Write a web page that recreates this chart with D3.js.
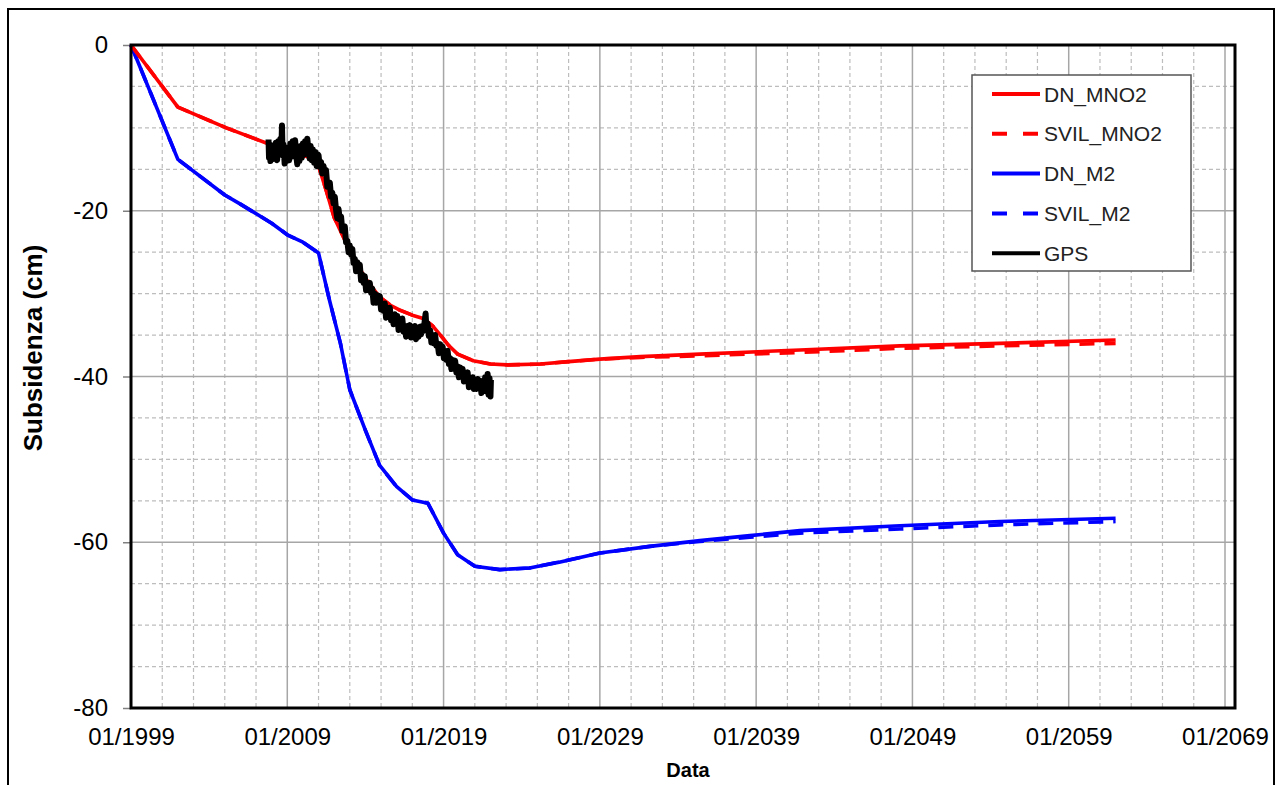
<!DOCTYPE html>
<html><head><meta charset="utf-8">
<script src="https://cdn.jsdelivr.net/npm/d3@7"></script>
<style>
html,body{margin:0;padding:0;background:#fff;}
svg text{font-family:"Liberation Sans",Arial,sans-serif;}
</style></head>
<body><svg id="chart" width="1282" height="785"></svg>
<script>
// ---- data ----
const xTickYears = [1999, 2009, 2019, 2029, 2039, 2049, 2059, 2069];
const yTicks = [0, -20, -40, -60, -80];
const seriesNames = ["DN_MNO2", "SVIL_MNO2", "DN_M2", "SVIL_M2", "GPS"];

const dnMno2 = [[1999.0,0],[2002.0,-7.5],[2005.1,-10.0],[2007.9,-12.0],[2009.5,-13.0],[2010.5,-13.6],[2011.0,-14.6],[2011.5,-17.6],[2012.0,-20.8],[2012.4,-22.4],[2013.0,-24.8],[2014.0,-28.2],[2014.9,-30.4],[2015.6,-31.4],[2016.2,-32.0],[2017.0,-32.6],[2017.7,-33.0],[2018.3,-33.9],[2018.8,-35.0],[2019.3,-36.2],[2019.9,-37.3],[2020.9,-38.1],[2022.0,-38.5],[2023.1,-38.6],[2025.2,-38.5],[2027.0,-38.2],[2029.0,-37.9],[2031.6,-37.6],[2035.4,-37.3],[2041.8,-36.8],[2048.2,-36.3],[2054.6,-36.0],[2062.0,-35.6]];
const svilMno2 = [[1999.0,0],[2002.0,-7.5],[2005.1,-10.0],[2007.9,-12.0],[2009.5,-13.0],[2010.5,-13.6],[2011.0,-14.6],[2011.5,-17.6],[2012.0,-20.8],[2012.4,-22.4],[2013.0,-24.8],[2014.0,-28.2],[2014.9,-30.4],[2015.6,-31.4],[2016.2,-32.0],[2017.0,-32.6],[2017.7,-33.0],[2018.3,-33.9],[2018.8,-35.0],[2019.3,-36.2],[2019.9,-37.3],[2020.9,-38.1],[2022.0,-38.5],[2023.1,-38.6],[2025.2,-38.5],[2027.0,-38.2],[2029.0,-37.9],[2031.6,-37.7],[2035.4,-37.5],[2041.8,-37.1],[2048.2,-36.6],[2054.6,-36.3],[2062.0,-36.0]];
const dnM2 = [[1999.0,0],[2002.0,-13.8],[2005.0,-18.1],[2006.0,-19.2],[2008.0,-21.5],[2009.0,-22.9],[2010.0,-23.8],[2011.0,-25.1],[2011.7,-30.8],[2012.4,-36.0],[2013.0,-41.6],[2014.0,-46.5],[2014.9,-50.7],[2016.0,-53.3],[2017.0,-54.9],[2018.0,-55.3],[2019.0,-58.9],[2019.9,-61.5],[2021.0,-62.9],[2022.6,-63.3],[2024.5,-63.1],[2026.4,-62.4],[2029.0,-61.3],[2032.2,-60.5],[2035.4,-59.8],[2038.6,-59.2],[2041.8,-58.6],[2048.2,-58.0],[2054.6,-57.5],[2062.0,-57.1]];
const svilM2 = [[1999.0,0],[2002.0,-13.8],[2005.0,-18.1],[2006.0,-19.2],[2008.0,-21.5],[2009.0,-22.9],[2010.0,-23.8],[2011.0,-25.1],[2011.7,-30.8],[2012.4,-36.0],[2013.0,-41.6],[2014.0,-46.5],[2014.9,-50.7],[2016.0,-53.3],[2017.0,-54.9],[2018.0,-55.3],[2019.0,-58.9],[2019.9,-61.5],[2021.0,-62.9],[2022.6,-63.3],[2024.5,-63.1],[2026.4,-62.4],[2029.0,-61.3],[2032.2,-60.5],[2035.4,-59.9],[2038.6,-59.4],[2041.8,-58.9],[2048.2,-58.4],[2054.6,-57.9],[2062.0,-57.5]];
const gps = [[2007.8,-11.4],[2007.83,-13.6],[2007.87,-12.0],[2007.92,-14.0],[2007.97,-12.3],[2008.05,-13.8],[2008.12,-12.1],[2008.2,-13.5],[2008.27,-11.8],[2008.35,-13.9],[2008.42,-11.6],[2008.5,-13.2],[2008.56,-11.3],[2008.62,-12.8],[2008.66,-9.7],[2008.7,-13.3],[2008.76,-12.0],[2008.83,-14.3],[2008.9,-12.4],[2008.97,-14.0],[2009.05,-12.5],[2009.12,-13.9],[2009.2,-11.9],[2009.27,-13.5],[2009.35,-11.6],[2009.42,-12.9],[2009.5,-11.5],[2009.57,-13.3],[2009.64,-14.4],[2009.7,-12.7],[2009.78,-14.0],[2009.85,-12.2],[2009.93,-13.6],[2010.0,-11.9],[2010.07,-13.2],[2010.14,-11.6],[2010.21,-12.9],[2010.28,-11.3],[2010.35,-12.6],[2010.43,-13.7],[2010.5,-12.2],[2010.57,-13.9],[2010.64,-12.6],[2010.72,-14.2],[2010.8,-12.9],[2010.88,-14.6],[2010.95,-13.2],
[2011.00,-13.3],[2011.08,-14.7],[2011.16,-14.1],[2011.24,-15.5],[2011.32,-14.6],[2011.40,-15.5],[2011.48,-15.1],[2011.56,-17.1],[2011.64,-16.8],[2011.72,-16.6],[2011.80,-18.3],[2011.88,-17.8],[2011.96,-19.1],[2012.04,-18.3],[2012.12,-19.9],[2012.20,-20.9],[2012.28,-19.8],[2012.36,-21.1],[2012.44,-20.7],[2012.52,-22.4],[2012.60,-22.1],[2012.68,-21.9],[2012.76,-23.8],[2012.84,-23.6],[2012.92,-25.0],[2013.00,-24.2],[2013.08,-25.3],[2013.16,-24.6],[2013.24,-26.3],[2013.32,-25.8],[2013.40,-27.3],[2013.48,-26.2],[2013.56,-27.2],[2013.64,-26.5],[2013.72,-28.4],[2013.80,-27.7],[2013.88,-28.7],[2013.96,-27.9],[2014.04,-29.6],[2014.12,-28.7],[2014.20,-29.6],[2014.28,-28.7],[2014.36,-29.9],[2014.44,-29.4],[2014.52,-31.1],[2014.60,-30.0],[2014.68,-31.1],[2014.76,-30.2],[2014.84,-31.1],[2014.92,-30.3],[2015.00,-31.9],[2015.08,-31.3],[2015.16,-32.1],[2015.24,-31.2],[2015.32,-32.9],[2015.40,-31.7],[2015.48,-32.6],[2015.56,-31.7],[2015.64,-33.2],[2015.72,-32.5],[2015.80,-33.7],[2015.88,-32.5],[2015.96,-33.6],[2016.04,-32.7],[2016.12,-34.4],[2016.20,-33.3],[2016.28,-34.2],[2016.36,-33.0],[2016.44,-34.6],[2016.52,-33.9],[2016.60,-35.2],[2016.68,-33.9],[2016.76,-34.7],[2016.84,-33.8],[2016.92,-35.3],[2017.00,-34.4],[2017.08,-35.2],[2017.16,-33.9],[2017.24,-35.5],[2017.32,-34.4],[2017.40,-35.2],[2017.48,-34.0],[2017.56,-34.9],[2017.64,-33.9],[2017.72,-34.5],[2017.80,-33.2],[2017.85,-32.4],[2017.90,-34.2],[2017.98,-33.6],[2018.06,-35.1],[2018.14,-34.4],[2018.22,-35.9],[2018.30,-35.0],[2018.38,-36.0],[2018.46,-35.0],[2018.54,-36.3],[2018.62,-36.0],[2018.70,-37.2],[2018.78,-36.1],[2018.86,-37.1],[2018.94,-36.4],[2019.02,-37.8],[2019.10,-37.0],[2019.18,-38.0],[2019.26,-36.9],[2019.34,-38.5],[2019.42,-37.8],[2019.50,-39.1],[2019.58,-38.0],[2019.66,-38.8],[2019.74,-38.1],[2019.82,-39.5],[2019.90,-38.8],[2019.98,-40.1],[2020.06,-38.9],[2020.14,-40.0],[2020.22,-39.1],[2020.30,-40.6],[2020.38,-39.8],[2020.46,-40.6],[2020.54,-39.5],[2020.62,-41.3],[2020.70,-40.2],[2020.78,-41.0],[2020.86,-40.1],[2020.94,-41.5],[2021.02,-40.5],[2021.10,-41.5],[2021.18,-40.3],[2021.26,-41.3],[2021.34,-40.5],[2021.42,-42.0],[2021.50,-40.8],[2021.58,-41.6],[2021.66,-40.1],[2021.74,-41.8],[2021.82,-39.7],[2021.88,-42.2],[2021.94,-40.2],[2022.00,-42.4],[2022.03,-40.4]];

// ---- layout ----
const svg = d3.select("#chart");
const L = 131, R = 1235, T = 45, B = 708;
const x = d3.scaleLinear().domain([1999, 2069.64]).range([L, R]);
const y = d3.scaleLinear().domain([-80, 0]).range([B, T]);

// outer border
svg.append("rect").attr("x", 8).attr("y", 9).attr("width", 1266).attr("height", 800)
  .attr("fill", "none").attr("stroke", "#000").attr("stroke-width", 2);

// minor grid
const minorX = d3.range(1999, 2070, 2).filter(v => (v - 1999) % 10 !== 0);
const minorY = d3.range(-80, 1, 5).filter(v => v % 20 !== 0);
const g = svg.append("g");
g.selectAll(".mx").data(minorX).enter().append("line")
  .attr("x1", d => x(d)).attr("x2", d => x(d)).attr("y1", T).attr("y2", B)
  .attr("stroke", "#bdbdbd").attr("stroke-width", 1.2).attr("stroke-dasharray", "4,3");
g.selectAll(".my").data(minorY).enter().append("line")
  .attr("y1", d => y(d)).attr("y2", d => y(d)).attr("x1", L).attr("x2", R)
  .attr("stroke", "#bdbdbd").attr("stroke-width", 1.2).attr("stroke-dasharray", "4,3");
// major grid
g.selectAll(".Mx").data(xTickYears).enter().append("line")
  .attr("x1", d => x(d)).attr("x2", d => x(d)).attr("y1", T).attr("y2", B)
  .attr("stroke", "#a6a6a6").attr("stroke-width", 1.5);
g.selectAll(".My").data(yTicks).enter().append("line")
  .attr("y1", d => y(d)).attr("y2", d => y(d)).attr("x1", L).attr("x2", R)
  .attr("stroke", "#a6a6a6").attr("stroke-width", 1.5);

// axes
const yAxis = d3.axisLeft(y).tickValues(yTicks).tickSize(8).tickPadding(15).tickFormat(d => String(d));
const ya = svg.append("g").attr("transform", `translate(${L},0)`).call(yAxis);
ya.select(".domain").remove();
ya.selectAll("line").attr("stroke", "#808080").attr("stroke-width", 1.5);
ya.selectAll("text").attr("font-size", 24).attr("fill", "#000").style("font-family", "'Liberation Sans',Arial,sans-serif");

const xAxis = d3.axisBottom(x).tickValues(xTickYears).tickSize(0).tickPadding(20).tickFormat(d => "01/" + d);
const xa = svg.append("g").attr("transform", `translate(0,${B})`).call(xAxis);
xa.select(".domain").remove();
xa.selectAll("text").attr("font-size", 24).attr("fill", "#000").style("font-family", "'Liberation Sans',Arial,sans-serif");

// series
const line = d3.line().x(d => x(d[0])).y(d => y(d[1]));
const series = [
  {data: svilM2, color: "#0000ff", dash: "15,10"},
  {data: dnM2, color: "#0000ff", dash: null},
  {data: svilMno2, color: "#ff0000", dash: "15,10"},
  {data: dnMno2, color: "#ff0000", dash: null},
];
series.forEach(s => {
  svg.append("path").datum(s.data).attr("d", line).attr("fill", "none")
    .attr("stroke", s.color).attr("stroke-width", 3.6)
    .attr("stroke-dasharray", s.dash).attr("stroke-linejoin", "round");
});
svg.append("path").datum(gps).attr("d", line).attr("fill", "none")
  .attr("stroke", "#000").attr("stroke-width", 6).attr("stroke-linejoin", "round");

// plot frame
svg.append("rect").attr("x", L).attr("y", T).attr("width", R - L).attr("height", B - T)
  .attr("fill", "none").attr("stroke", "#000").attr("stroke-width", 3);

// axis titles
svg.append("text").attr("x", 688).attr("y", 777).attr("text-anchor", "middle")
  .attr("font-size", 20).attr("font-weight", "bold").text("Data");
svg.append("text").attr("transform", "translate(42,348) rotate(-90)").attr("text-anchor", "middle")
  .attr("font-size", 26).attr("font-weight", "bold").text("Subsidenza (cm)");

// legend
const lg = svg.append("g");
lg.append("rect").attr("x", 972).attr("y", 75).attr("width", 219).attr("height", 196)
  .attr("fill", "#fff").attr("stroke", "#555").attr("stroke-width", 1.5);
const legItems = [
  {name: seriesNames[0], color: "#ff0000", dash: null},
  {name: seriesNames[1], color: "#ff0000", dash: "15,16"},
  {name: seriesNames[2], color: "#0000ff", dash: null},
  {name: seriesNames[3], color: "#0000ff", dash: "15,16"},
  {name: seriesNames[4], color: "#000000", dash: null},
];
legItems.forEach((it, i) => {
  const yy = 94 + i * 39.8;
  lg.append("line").attr("x1", 992).attr("x2", 1040).attr("y1", yy).attr("y2", yy)
    .attr("stroke", it.color).attr("stroke-width", 4).attr("stroke-dasharray", it.dash);
  lg.append("text").attr("x", 1044).attr("y", yy).attr("dy", "0.36em")
    .attr("font-size", 21).attr("fill", "#222").text(it.name);
});
</script></body></html>
